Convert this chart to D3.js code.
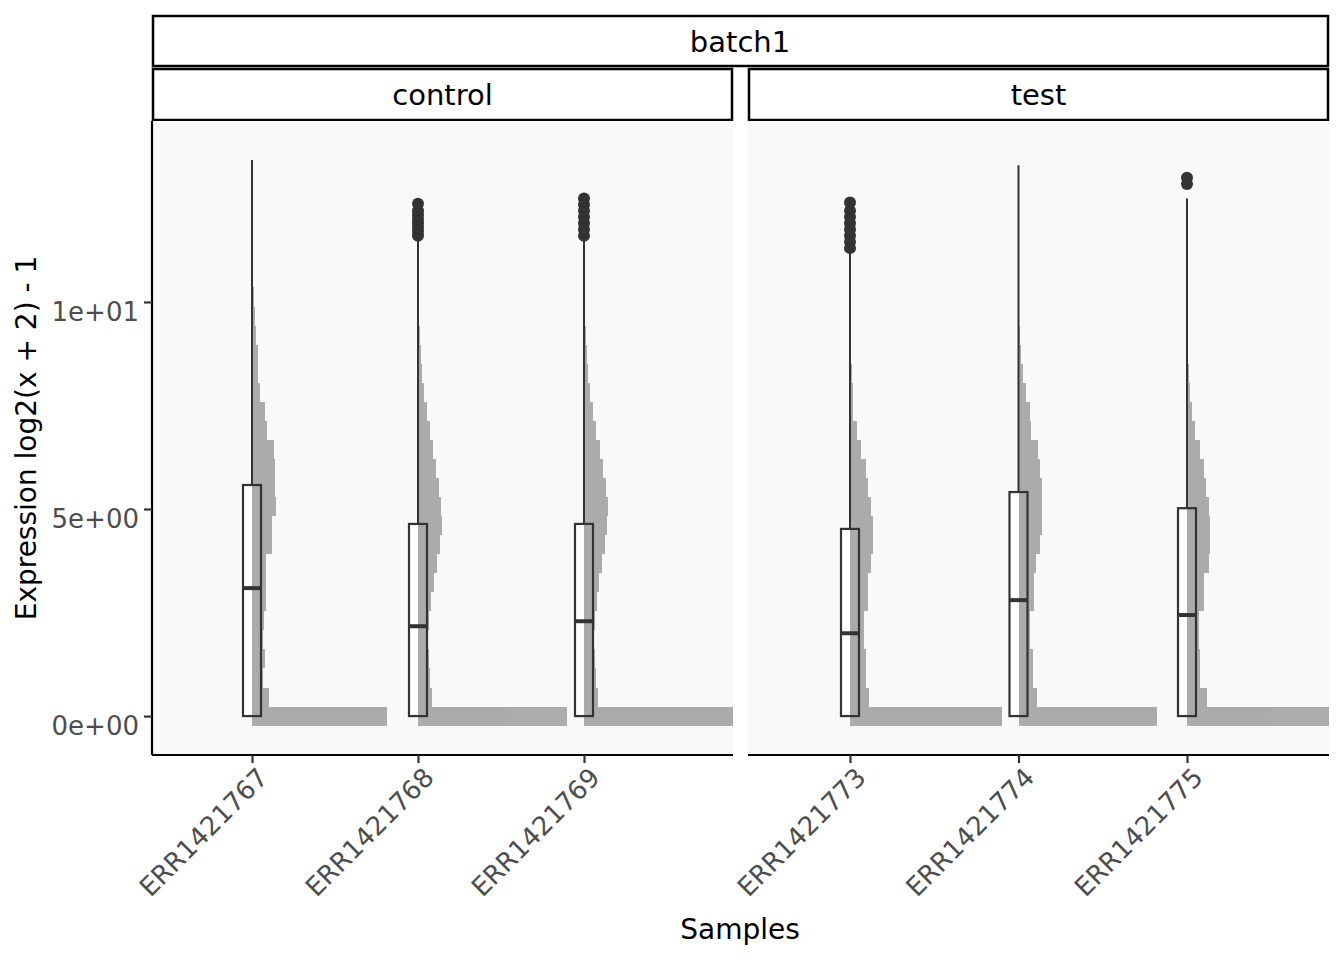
<!DOCTYPE html>
<html><head><meta charset="utf-8">
<script src="https://cdn.jsdelivr.net/npm/d3@7"></script>
<style>body{margin:0;background:#fff}</style>
</head><body>
<svg id="c" width="1344" height="960"></svg>
<script>
const samples = ["ERR1421767","ERR1421768","ERR1421769","ERR1421773","ERR1421774","ERR1421775"]
const groups = ["control","control","control","test","test","test"]
const binWidth = 0.46
// histogram bar lengths (px-scaled counts), bin i centred at i*binWidth
const hist = [
  [135,17,11,13,11,12,14,14,14,20,20,24,23,23,22,15,13,8,6,6,4,3,2,1,1,0.5,0.5,0.5,0.3,0.3],
  [149,14,12,11,10,11,13,16,19,22,24,23,21,18,15,12,9,6,4,3,2,1,0.5,0.3,0.3],
  [150,14,12,11,10,11,13,15,18,21,23,24,22,19,16,12,9,6,4,3,2,1,0.5,0.3,0.3,0.3],
  [152,19,16,16,14,14,18,18,21,23,23,21,18,16,11,7,3,3,1.5,1,0.5,0.3,0.3,0.3,0.3],
  [138,18,14,14,11,11,15,15,17,21,23,23,23,21,19,12,11,7,4,2,1,0.5,0.3,0.3,0.3,0.3,0.3,0.3],
  [142,20,13,13,12,12,17,17,22,23,23,22,19,17,13,8,5,3,2,1,1,0.5,0.3,0.3,0.3,0.3,0.3]
]
const q1 = [0,0,0,0,0,0]
const medians = [3.09,2.17,2.29,2.0,2.8,2.44]
const q3 = [5.58,4.64,4.64,4.52,5.41,5.02]
const whiskerTop = [13.43,11.55,11.55,11.26,13.3,12.5]
const outliers = [
  [],
  [11.6,11.7,11.8,11.9,12.0,12.1,12.2,12.37],
  [11.6,11.75,11.9,12.05,12.2,12.35,12.5],
  [11.3,11.45,11.6,11.75,11.9,12.05,12.2,12.4],
  [],
  [12.85,13.0]
]
const yTicks = [0,5,10]
const yTickLabels = ["0e+00","5e+00","1e+01"]

const svg = d3.select("#c")
const panelTop = 121, panelBottom = 755
const panels = [{name:"control", x0:152, x1:733, off:100, step:166}, {name:"test", x0:748, x1:1329, off:102, step:168.5}]
const y = d3.scaleLinear().domain([-0.94, 14.37]).range([panelBottom, panelTop])
const len = d3.scaleLinear().domain([0,1]).range([0,1])
const font = "DejaVu Sans"

// strips
svg.append("rect").attr("x",153).attr("y",16).attr("width",1175).attr("height",50)
  .attr("fill","#fff").attr("stroke","#000").attr("stroke-width",2.5)
svg.append("text").attr("x",740).attr("y",42).attr("text-anchor","middle").attr("dominant-baseline","central")
  .attr("font-family",font).attr("font-size",29).text("batch1")

panels.forEach((p, pi) => {
  const idx = groups.map((g,i)=>g===p.name?i:-1).filter(i=>i>=0)
  const names = idx.map(i=>samples[i])
  const x = d3.scalePoint().domain(names).range([p.x0+p.off, p.x0+p.off+2*p.step])

  svg.append("rect").attr("x",p.x0+1).attr("y",69).attr("width",p.x1-p.x0-2).attr("height",51)
    .attr("fill","#fff").attr("stroke","#000").attr("stroke-width",2.5)
  svg.append("text").attr("x",(p.x0+p.x1)/2).attr("y",95).attr("text-anchor","middle").attr("dominant-baseline","central")
    .attr("font-family",font).attr("font-size",29).text(p.name)

  svg.append("rect").attr("x",p.x0).attr("y",panelTop).attr("width",p.x1-p.x0).attr("height",panelBottom-panelTop)
    .attr("fill","#f9f9f9")
  svg.append("clipPath").attr("id","clip"+pi).append("rect")
    .attr("x",p.x0).attr("y",panelTop).attr("width",p.x1-p.x0).attr("height",panelBottom-panelTop)
  const g = svg.append("g").attr("clip-path",`url(#clip${pi})`)

  idx.forEach(i => {
    const cx = x(samples[i]), bw = 18
    g.append("rect").attr("x",cx-bw/2).attr("y",y(q3[i])).attr("width",bw).attr("height",y(q1[i])-y(q3[i])).attr("fill","#fff")
    const hg = g.append("g").attr("opacity",0.9)
    hg.selectAll(null).data(hist[i]).join("rect")
      .attr("x",cx).attr("y",(d,k)=>y(k*binWidth+binWidth/2))
      .attr("width",d=>len(d)).attr("height",(d,k)=>y(k*binWidth-binWidth/2)-y(k*binWidth+binWidth/2))
      .attr("fill","#a3a3a3").attr("shape-rendering","crispEdges")
    g.append("line").attr("x1",cx).attr("x2",cx).attr("y1",y(q3[i])).attr("y2",y(whiskerTop[i]))
      .attr("stroke","#333").attr("stroke-width",2)
    g.append("rect").attr("x",cx-bw/2).attr("y",y(q3[i])).attr("width",bw).attr("height",y(q1[i])-y(q3[i]))
      .attr("fill","none").attr("stroke","#333").attr("stroke-width",2.2)
    g.append("line").attr("x1",cx-bw/2).attr("x2",cx+bw/2).attr("y1",y(medians[i])).attr("y2",y(medians[i]))
      .attr("stroke","#333").attr("stroke-width",4)
    g.selectAll(null).data(outliers[i]).join("circle")
      .attr("cx",cx).attr("cy",d=>y(d)).attr("r",6).attr("fill","#333")
  })

  const xa = svg.append("g").attr("transform",`translate(0,${panelBottom})`)
    .call(d3.axisBottom(x).tickSize(8).tickSizeOuter(0))
  xa.select(".domain").attr("d",`M${p.x0},0H${p.x1}`).attr("stroke","#000").attr("stroke-width",2.2)
  xa.selectAll(".tick line").attr("stroke","#333").attr("stroke-width",2.2)
  xa.selectAll(".tick text").attr("font-family",font).attr("font-size",26).attr("fill","#4d4d4d")
    .attr("text-anchor","end").attr("dy",0).attr("y",0)
    .attr("transform","translate(17,24) rotate(-45)")
})

// y axis
const ya = svg.append("g").attr("transform",`translate(152,0)`)
  .call(d3.axisLeft(y).tickValues(yTicks).tickFormat((d,i)=>yTickLabels[i]).tickSize(8).tickSizeOuter(0))
ya.select(".domain").attr("d",`M0,${panelTop}V${panelBottom}`).attr("stroke","#000").attr("stroke-width",2.2)
ya.selectAll(".tick line").attr("stroke","#333").attr("stroke-width",2.2)
ya.selectAll(".tick text").attr("font-family",font).attr("font-size",26).attr("fill","#4d4d4d").attr("x",-13).attr("dy","0.7em")

svg.append("text").attr("transform","translate(36,438) rotate(-90)").attr("text-anchor","middle")
  .attr("font-family",font).attr("font-size",28).text("Expression log2(x + 2) - 1")
svg.append("text").attr("x",740).attr("y",939).attr("text-anchor","middle")
  .attr("font-family",font).attr("font-size",28).text("Samples")
</script>
</body></html>
